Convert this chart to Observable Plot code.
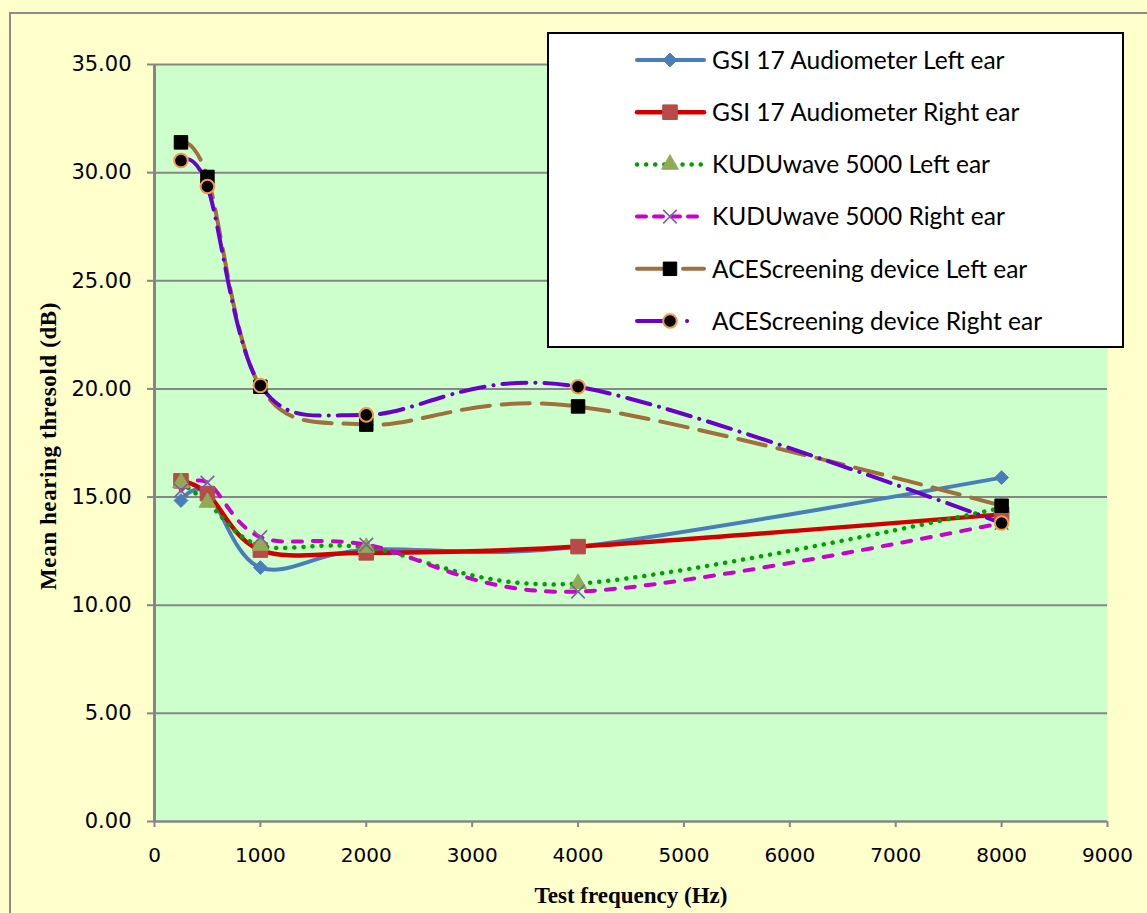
<!DOCTYPE html>
<html><head><meta charset="utf-8">
<script src="https://cdn.jsdelivr.net/npm/d3@7"></script>
<script src="https://cdn.jsdelivr.net/npm/@observablehq/plot@0.6"></script>
<style>
body{margin:0;background:#FFFFCC;}
#wrap{position:relative;width:1147px;height:913px;overflow:hidden;background:#FFFFCC;}
#border{position:absolute;left:9px;top:12px;width:1300px;height:1000px;border-left:2px solid #8c8c8c;border-top:2px solid #8c8c8c;}
#chart{position:absolute;left:0;top:0;}
#legend{position:absolute;left:547px;top:32px;width:573px;height:312px;background:#fff;border:2px solid #000;}
</style></head><body>
<div id="wrap"><div id="border"></div><div id="chart"></div><div id="legend"></div></div>
<script>
// ---- data ----
const frequencies = [250, 500, 1000, 2000, 4000, 8000];
const seriesNames = [
  "GSI 17 Audiometer Left ear",
  "GSI 17 Audiometer Right ear",
  "KUDUwave 5000 Left ear",
  "KUDUwave 5000 Right ear",
  "ACEScreening device Left ear",
  "ACEScreening device Right ear"
];
const gsiLeft   = [14.84, 15.20, 11.74, 12.57, 12.70, 15.90];
const gsiRight  = [15.75, 15.16, 12.55, 12.42, 12.71, 14.20];
const kuduLeft  = [15.67, 14.75, 12.76, 12.67, 11.00, 14.50];
const kuduRight = [15.30, 15.67, 13.15, 12.80, 10.63, 13.80];
const aceLeft   = [31.40, 29.80, 20.10, 18.35, 19.19, 14.60];
const aceRight  = [30.56, 29.36, 20.16, 18.80, 20.10, 13.80];
const yTicks = [0, 5, 10, 15, 20, 25, 30, 35];
const xTicks = [0, 1000, 2000, 3000, 4000, 5000, 6000, 7000, 8000, 9000];
const xTitle = "Test frequency (Hz)";
const yTitle = "Mean hearing thresold (dB)";

// ---- styles ----
const seriesValues = [gsiLeft, gsiRight, kuduLeft, kuduRight, aceLeft, aceRight];
const styles = [
  {stroke: "#4A7EBB", width: 4, dash: null, cap: "round", symbol: "diamond2", r: 6.2, fill: "#4A7EBB", mstroke: "#4A7EBB", msw: 1},
  {stroke: "#D00000", width: 4.5, dash: null, cap: "round", symbol: "square", r: 8.2, fill: "#B84A48", mstroke: "#B84A48", msw: 1},
  {stroke: "#00A000", width: 4.5, dash: "0.1 9", cap: "round", symbol: "triangle", r: 6.2, fill: "#8FAB55", mstroke: "#8FAB55", msw: 1},
  {stroke: "#CC00CC", width: 4, dash: "9 11", cap: "round", symbol: "times", r: 6.2, fill: "none", mstroke: "#7D60A0", msw: 1.6},
  {stroke: "#A0703C", width: 4, dash: "28 12", cap: "round", symbol: "square", r: 7.6, fill: "#000000", mstroke: "#000000", msw: 1},
  {stroke: "#6A00CC", width: 4, dash: "24 9 0.1 9", cap: "round", symbol: "circle", r: 6.8, fill: "#000000", mstroke: "#F79646", msw: 2}
];
const legendDash = [null, null, "0.1 9", "9 8", "32 14 30", "36 14 0.1 40"];

const table = seriesNames.map((name, i) => frequencies.map((f, j) => ({series: name, freq: f, value: seriesValues[i][j]})));

const lineMarks = table.map((rows, i) => Plot.line(rows, {
  x: "freq", y: "value", curve: "cardinal",
  stroke: styles[i].stroke, strokeWidth: styles[i].width,
  strokeDasharray: styles[i].dash, strokeLinecap: styles[i].cap, strokeLinejoin: "round"
}));
const dotMarks = table.map((rows, i) => Plot.dot(rows, {
  x: "freq", y: "value", symbol: () => styles[i].symbol, r: styles[i].r,
  fill: styles[i].fill, stroke: styles[i].mstroke, strokeWidth: styles[i].msw
}));

const grey = "#868686";
const chart = Plot.plot({
  width: 1147, height: 913,
  marginTop: 64, marginRight: 40, marginBottom: 92, marginLeft: 154,
  style: {background: "transparent", overflow: "visible", color: "black"},
  x: {domain: [0, 9000], axis: null},
  y: {domain: [0, 35], axis: null},
  marks: [
    Plot.frame({fill: "#CCFFCC", stroke: null}),
    Plot.ruleY(yTicks.filter(d => d > 0), {stroke: grey, strokeWidth: 2}),
    Plot.ruleY([0], {stroke: grey, strokeWidth: 2.5}),
    Plot.ruleX([0], {stroke: grey, strokeWidth: 3}),
    Plot.axisY(yTicks, {tickSize: 7, tickPadding: 16, tickFormat: d3.format(".2f"), fontSize: 21, fontFamily: "DejaVu Sans", stroke: grey, strokeWidth: 2, fill: "black", label: null}),
    Plot.axisX(xTicks, {tickSize: 6, tickPadding: 20, tickFormat: d => String(d), fontSize: 20, fontFamily: "DejaVu Sans", stroke: grey, strokeWidth: 2, fill: "black", label: null}),
    ...lineMarks,
    ...dotMarks
  ]
});
document.getElementById("chart").appendChild(chart);

const svg = d3.select(chart);
svg.append("text").attr("x", 631).attr("y", 903).attr("text-anchor", "middle")
  .attr("font-family", "Liberation Serif").attr("font-weight", "bold").attr("font-size", 23).attr("fill", "black")
  .text(xTitle);
svg.append("text").attr("transform", "translate(56,446) rotate(-90)").attr("text-anchor", "middle")
  .attr("font-family", "Liberation Serif").attr("font-weight", "bold").attr("font-size", 23)
  .attr("letter-spacing", 0.6).attr("fill", "black")
  .text(yTitle);

// ---- legend ----
const symMap = {diamond2: d3.symbolDiamond2, square: d3.symbolSquare, triangle: d3.symbolTriangle, times: d3.symbolTimes, circle: d3.symbolCircle};
const lg = d3.select("#legend").append("svg").attr("width", 573).attr("height", 312);
seriesNames.forEach((name, i) => {
  const s = styles[i];
  const yy = 26 + i * 52.2;
  const g = lg.append("g").attr("transform", `translate(0,${yy})`);
  g.append("line").attr("x1", 88).attr("x2", 155).attr("y1", 0).attr("y2", 0)
    .attr("stroke", s.stroke).attr("stroke-width", s.width)
    .attr("stroke-dasharray", legendDash[i]).attr("stroke-linecap", s.cap);
  if (s.symbol === "circle") {
    g.append("circle").attr("cx", 121).attr("cy", 0).attr("r", s.r)
      .attr("fill", s.fill).attr("stroke", s.mstroke).attr("stroke-width", s.msw);
  } else {
    g.append("path").attr("transform", "translate(121,0)")
      .attr("d", d3.symbol(symMap[s.symbol], Math.PI * s.r * s.r)())
      .attr("fill", s.fill).attr("stroke", s.mstroke).attr("stroke-width", s.msw);
  }
  g.append("text").attr("x", 163).attr("y", 0).attr("dy", "0.36em")
    .attr("font-family", "Lato").attr("font-size", 24.5).attr("fill", "black").text(name);
});
</script>
</body></html>
